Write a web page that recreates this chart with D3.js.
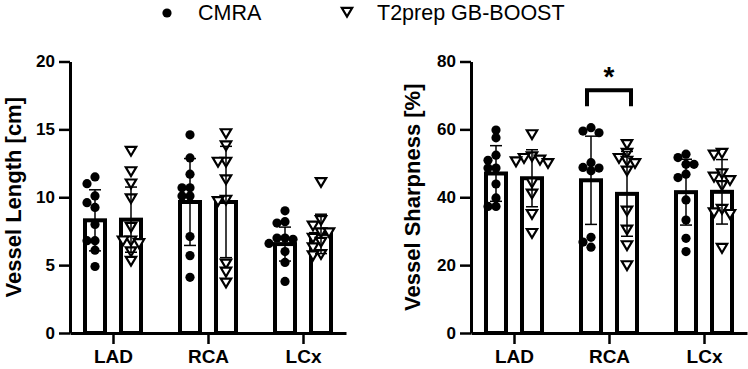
<!DOCTYPE html>
<html>
<head>
<meta charset="utf-8">
<script src="https://cdn.jsdelivr.net/npm/d3@7"></script>
<style>
  body { margin: 0; background: #fff; }
  text { font-family: Arial, "Liberation Sans", sans-serif; }
</style>
</head>
<body>
<script>
// categories + series
let categories = ["LAD", "RCA", "LCx"];
let series = ["CMRA", "T2prep GB-BOOST"];

// vessel length [cm], individual points per vessel
let lengthCMRA = [
  [11.0, 11.5, 9.6, 10.1, 9.25, 8.0, 6.8, 6.8, 6.1, 4.9],
  [14.6, 12.9, 11.7, 10.7, 10.7, 10.1, 10.1, 7.1, 5.7, 4.1],
  [9.0, 8.2, 8.1, 7.0, 7.0, 6.9, 6.6, 6.0, 5.2, 3.8]
];
let lengthT2 = [
  [13.4, 11.9, 11.0, 9.9, 7.8, 6.8, 6.8, 6.6, 6.0, 5.3],
  [14.7, 13.8, 12.6, 12.6, 11.3, 9.8, 9.7, 5.1, 4.5, 3.7],
  [11.1, 8.3, 7.9, 7.4, 7.4, 7.0, 6.7, 6.3, 5.8, 5.7]
];
let lengthMeanCMRA = [8.3, 9.65, 6.55];
let lengthMeanT2 = [8.35, 9.65, 7.3];
let lengthSdCMRA = [2.25, 3.2, 1.25];
let lengthSdT2 = [2.4, 4.1, 1.45];

// vessel sharpness [%]
let sharpCMRA = [
  [59.8, 57.5, 52.4, 50.9, 48.6, 48.6, 43.9, 39.8, 37.3, 37.3],
  [60.5, 59.5, 59.0, 50.2, 48.8, 48.6, 47.8, 28.2, 26.8, 25.3],
  [52.7, 51.7, 49.7, 49.7, 46.8, 45.8, 39.2, 33.3, 27.9, 24.0]
];
let sharpT2 = [
  [58.5, 52.0, 51.5, 51.0, 50.5, 50.0, 44.3, 41.0, 35.0, 29.4],
  [55.6, 53.0, 51.5, 50.7, 50.0, 47.8, 36.0, 30.4, 25.8, 19.9],
  [53.0, 52.5, 47.0, 46.0, 45.0, 43.5, 36.5, 35.5, 35.0, 25.0]
];
let sharpMeanCMRA = [47.0, 45.0, 41.5];
let sharpMeanT2 = [45.6, 41.0, 41.6];
let sharpSdCMRA = [8.2, 13.0, 9.7];
let sharpSdT2 = [8.4, 12.5, 9.5];

let lengthTicks = [0, 5, 10, 15, 20];
let sharpTicks = [0, 20, 40, 60, 80];

let width = 748, height = 369;

let svg = d3.select("body").append("svg")
  .attr("width", width)
  .attr("height", height);

// down pointing triangle
let triPath = "M-5.2,-4.2 L5.2,-4.2 L0,4.6 Z";

function drawPanel(opts) {
  let x0 = opts.left, plotW = 276;
  let yTop = 61.5, yBot = 333;

  let xscale = d3.scalePoint()
    .domain(categories)
    .range([x0, x0 + plotW])
    .padding(0.4526);

  let yscale = d3.scaleLinear()
    .domain([0, opts.max])
    .range([yBot, yTop]);

  let off = 18; // bar offset from group center
  let g = svg.append("g");

  // bars
  let bars = [];
  categories.forEach((c, i) => {
    bars.push({cat: c, s: 0, mean: opts.meanA[i], sd: opts.sdA[i], pts: opts.ptsA[i]});
    bars.push({cat: c, s: 1, mean: opts.meanB[i], sd: opts.sdB[i], pts: opts.ptsB[i]});
  });
  bars.forEach(b => b.cx = xscale(b.cat) + (b.s == 0 ? -off : off));

  g.selectAll("rect.bar")
    .data(bars)
    .enter().append("rect")
      .attr("class", "bar")
      .attr("x", d => d.cx - 10)
      .attr("width", 20)
      .attr("y", d => yscale(d.mean))
      .attr("height", d => yBot - yscale(d.mean))
      .style("fill", "white")
      .style("stroke", "black")
      .style("stroke-width", 4);

  // points, simple swarm so they dont overlap
  bars.forEach(b => {
    let placed = [];
    let sorted = b.pts.slice().sort((a, c) => c - a);
    sorted.forEach(v => {
      let py = yscale(v);
      let cands = [0, -8, 8, -16, 16];
      let dx = 0;
      for (let k = 0; k < cands.length; k++) {
        let hit = placed.some(p => Math.abs(p.dx - cands[k]) < 7.5 && Math.abs(p.py - py) < 7.5);
        if (!hit) { dx = cands[k]; break; }
      }
      placed.push({dx: dx, py: py});
    });
    let pg = g.append("g");
    if (b.s == 0) {
      pg.selectAll("circle")
        .data(placed).enter().append("circle")
          .attr("cx", d => b.cx + d.dx)
          .attr("cy", d => d.py)
          .attr("r", 4.6)
          .style("fill", "black");
    } else {
      pg.selectAll("path")
        .data(placed).enter().append("path")
          .attr("d", triPath)
          .attr("transform", d => "translate(" + (b.cx + d.dx) + "," + d.py + ")")
          .style("fill", "white")
          .style("stroke", "black")
          .style("stroke-width", 2.2)
          .style("stroke-linejoin", "miter");
    }
  });

  // error bars (mean +- sd)
  let eb = g.selectAll("g.err").data(bars).enter().append("g").attr("class", "err")
    .style("stroke", "black").style("stroke-width", 1.5);
  eb.append("line")
    .attr("x1", d => d.cx).attr("x2", d => d.cx)
    .attr("y1", d => yscale(d.mean + d.sd)).attr("y2", d => yscale(d.mean - d.sd));
  eb.append("line")
    .attr("x1", d => d.cx - 6).attr("x2", d => d.cx + 6)
    .attr("y1", d => yscale(d.mean + d.sd)).attr("y2", d => yscale(d.mean + d.sd));
  eb.append("line")
    .attr("x1", d => d.cx - 6).attr("x2", d => d.cx + 6)
    .attr("y1", d => yscale(d.mean - d.sd)).attr("y2", d => yscale(d.mean - d.sd));

  // axes
  let yaxis = d3.axisLeft(yscale).tickValues(opts.ticks).tickSize(11).tickPadding(4).tickSizeOuter(0);
  let ya = g.append("g").attr("transform", "translate(" + x0 + ",0)").call(yaxis);
  let xaxis = d3.axisBottom(xscale).tickSize(11).tickPadding(6).tickSizeOuter(0);
  let xa = g.append("g").attr("transform", "translate(0," + yBot + ")").call(xaxis);

  [ya, xa].forEach(a => {
    a.select(".domain").style("stroke-width", 3).style("stroke", "black");
    a.selectAll(".tick line").style("stroke-width", 2.5).style("stroke", "black");
  });
  ya.selectAll(".tick text")
    .style("font-size", "17px").style("font-weight", "bold").style("fill", "black")
    .style("font-family", "Arial, 'Liberation Sans', sans-serif");
  xa.selectAll(".tick text")
    .style("font-size", "19px").style("font-weight", "bold").style("fill", "black")
    .style("font-family", "Arial, 'Liberation Sans', sans-serif");

  // y title
  svg.append("text")
    .attr("transform", "translate(" + opts.titleX + "," + ((yTop + yBot) / 2) + ") rotate(-90)")
    .attr("text-anchor", "middle")
    .attr("dy", "0.35em")
    .style("font-size", "22px")
    .style("font-weight", "bold")
    .text(opts.title);

  return {xscale: xscale, yscale: yscale, off: off};
}

drawPanel({
  left: 70, max: 20, ticks: lengthTicks, title: "Vessel Length [cm]", titleX: 13,
  ptsA: lengthCMRA, ptsB: lengthT2,
  meanA: lengthMeanCMRA, meanB: lengthMeanT2, sdA: lengthSdCMRA, sdB: lengthSdT2
});

let right = drawPanel({
  left: 471, max: 80, ticks: sharpTicks, title: "Vessel Sharpness [%]", titleX: 412,
  ptsA: sharpCMRA, ptsB: sharpT2,
  meanA: sharpMeanCMRA, meanB: sharpMeanT2, sdA: sharpSdCMRA, sdB: sharpSdT2
});

// significance bracket over RCA
let bx1 = right.xscale("RCA") - right.off - 4;
let bx2 = right.xscale("RCA") + right.off + 4;
let bTop = right.yscale(71.5), bLeg = right.yscale(66.8);
svg.append("path")
  .attr("d", "M" + bx1 + "," + bLeg + " L" + bx1 + "," + bTop + " L" + bx2 + "," + bTop + " L" + bx2 + "," + bLeg)
  .style("fill", "none")
  .style("stroke", "black")
  .style("stroke-width", 4);
svg.append("text")
  .attr("x", right.xscale("RCA"))
  .attr("y", bTop - 4)
  .attr("text-anchor", "middle")
  .style("font-size", "28px")
  .style("font-weight", "bold")
  .text("*");

// legend
let leg = svg.append("g");
leg.append("circle").attr("cx", 167).attr("cy", 13).attr("r", 4.6).style("fill", "black");
leg.append("text").attr("x", 198).attr("y", 20).style("font-size", "21.5px").text(series[0]);
leg.append("path").attr("d", triPath).attr("transform", "translate(347,12)")
  .style("fill", "white").style("stroke", "black").style("stroke-width", 2.2);
leg.append("text").attr("x", 377).attr("y", 20).style("font-size", "21.5px").text(series[1]);
</script>
</body>
</html>
